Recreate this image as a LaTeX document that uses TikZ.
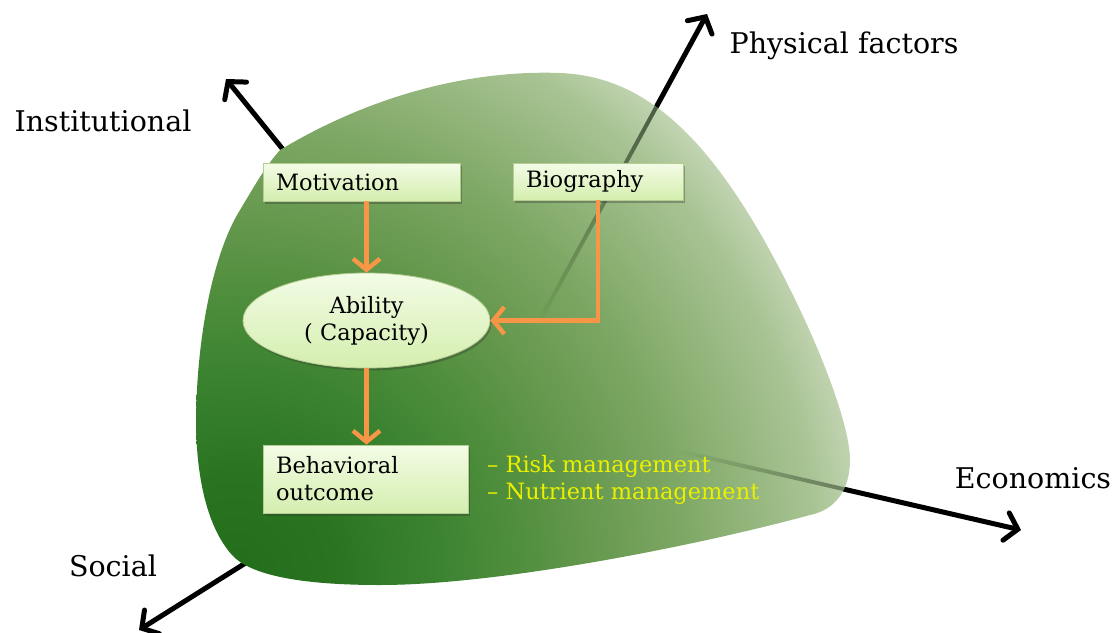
\documentclass[tikz,border=0pt]{standalone}
\usepackage{fontspec}
\setmainfont{DejaVu Serif}
\usetikzlibrary{arrows.meta,shadows,fadings,shapes.geometric,calc}
\definecolor{orng}{HTML}{F79646}
\definecolor{ylw}{HTML}{EAF000}
\definecolor{r0}{HTML}{236E1B}
\definecolor{r1}{HTML}{2A7421}
\definecolor{r1b}{HTML}{3A8230}
\definecolor{r2}{HTML}{4F8E3C}
\definecolor{r3}{HTML}{67994F}
\definecolor{r4}{HTML}{7DA764}
\definecolor{r5}{HTML}{A8C393}
\definecolor{r6}{HTML}{D3DFC7}
\definecolor{r7}{HTML}{E2E9DA}
\definecolor{boxtop}{HTML}{F3FCE6}
\definecolor{boxbot}{HTML}{D4EEAE}
\definecolor{boxedge}{HTML}{B5CC92}
\pgfdeclareradialshading{blobrad}{\pgfpointorigin}{color(0bp)=(r0); color(3.5bp)=(r1); color(7bp)=(r1b); color(10bp)=(r2); color(12.8bp)=(r3); color(15.9bp)=(r4); color(20.7bp)=(r5); color(23.6bp)=(r6); color(25bp)=(r7); color(50bp)=(r7)}
\newcommand\blobpath{(280,-150) .. controls (380,-90) and (480,-70) .. (560,-73) .. controls (640,-76) and (700,-130) .. (760,-233) .. controls (810,-320) and (850,-420) .. (850,-460) .. controls (850,-490) and (835,-510) .. (810,-515) .. controls (700,-545) and (500,-585) .. (380,-585) .. controls (300,-585) and (250,-575) .. (232,-555) .. controls (205,-525) and (196,-470) .. (196,-420) .. controls (197,-330) and (215,-250) .. (240,-210) .. controls (255,-185) and (265,-167) .. (280,-150) -- cycle}
\newcommand\axisfont{\fontsize{28.5}{32}\selectfont}
\newcommand\boxfont{\fontsize{22.5}{27}\selectfont}
\tikzset{
  axisline/.style={line width=5pt, draw=black, line cap=round, -{Straight Barb[length=12pt,width=28pt,line cap=round]}},
  faintaxis/.style={line width=4pt, draw=black!80!r0, opacity=0.9},
  axislabel/.style={font=\axisfont, inner sep=0pt},
  box/.style={draw=boxedge, line width=0.8pt, top color=boxtop, bottom color=boxbot,
    drop shadow={shadow xshift=1.5pt, shadow yshift=-2.5pt, opacity=0.35, fill=black!80},
    font=\boxfont, align=left, inner xsep=13pt, inner ysep=2pt},
  ellbox/.style={ellipse, draw=boxedge, line width=0.8pt, top color=boxtop, bottom color=boxbot,
    drop shadow={shadow xshift=1.5pt, shadow yshift=-2.5pt, opacity=0.35, fill=black!80},
    font=\boxfont, align=center, inner sep=0pt},
  oarrow/.style={draw=orng, line width=4.4pt, -{Straight Barb[length=11pt,width=27pt]}},
  note/.style={font=\boxfont, text=ylw, align=left, inner sep=0pt}
}
\begin{document}
\begin{tikzpicture}[x=1pt,y=1pt]
\useasboundingbox (0,0) rectangle (1115,-632);
% axes
\coordinate (O) at (492,-408);
\coordinate (tI) at (226,-79);
\coordinate (tP) at (707,-14);
\coordinate (tE) at (1021,-530);
\coordinate (tS) at (139,-630);
\draw[axisline] (O) -- (tI);
\draw[axisline] (O) -- (tP);
\draw[axisline] (O) -- (tE);
\draw[axisline] (O) -- (tS);
% blob
\begin{scope}
  \clip \blobpath;
  \path[shading=blobrad] (236,-572) circle (700);
  % faint axes seen through the blob
  \draw[faintaxis, path fading=south] ($(O)!0.22!(tP)$) -- (tP);
  \draw[faintaxis, path fading=west] ($(O)!0.36!(tE)$) -- (tE);
\end{scope}
% labels
\node[axislabel] (lI) at (103,-121) {Institutional};
\node[axislabel] (lP) at (844,-46) {Physical factors};
\node[axislabel] (lE) at (1033,-478) {Economics};
\node[axislabel] (lS) at (113,-566) {Social};
% boxes
\node[box, text width=171pt, minimum height=38pt] (mot) at (361.5,-182) {Motivation};
\node[box, text width=144pt, minimum height=37pt] (bio) at (598,-181.5) {Biography};
\node[ellbox, minimum width=247pt, minimum height=95pt] (abil) at (366.5,-320.5) {Ability\\( Capacity)};
\node[box, text width=179pt, minimum height=68pt] (beh) at (365.5,-479) {Behavioral\\outcome};
\node[note, anchor=west] (notes) at (487,-480) {– Risk management\\– Nutrient management};
% orange arrows
\draw[oarrow] (mot.south -| abil.north) -- (abil.north);
\draw[oarrow] (abil.south) -- (beh.north -| abil.south);
\draw[oarrow] (bio.south) |- (abil.east);
\end{tikzpicture}
\end{document}
